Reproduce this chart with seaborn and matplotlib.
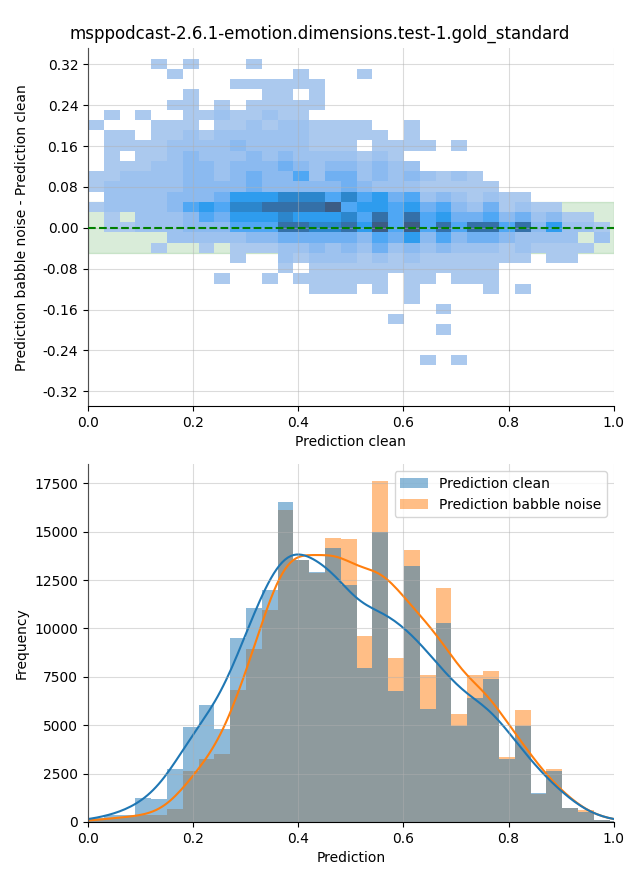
import numpy as np
import pandas as pd
import matplotlib
matplotlib.use("Agg")
import matplotlib.pyplot as plt
import seaborn as sns
from matplotlib.colors import ListedColormap

TITLE = "msppodcast-2.6.1-emotion.dimensions.test-1.gold_standard"
SERIES = ["Prediction clean", "Prediction babble noise"]

# ---- bottom: bar heights per prediction bin ----
clean_counts = [180, 380, 380, 1260, 1210, 2760, 4900, 6040, 4790, 9480, 11030,
                11980, 16510, 13560, 12900, 14160, 12230, 7930, 14990, 6780,
                13210, 5850, 10270, 4960, 6410, 7370, 3270, 4960, 1500, 2620,
                720, 520, 100, 40]
babble_counts = [100, 200, 250, 350, 350, 690, 2620, 3240, 3500, 6810, 8920,
                 10940, 16120, 13540, 12850, 14690, 14640, 9620, 17610, 8480,
                 14040, 7580, 12080, 5570, 7580, 7780, 3360, 5770, 1460, 2760,
                 720, 600, 110, 40]

# ---- top: 2D histogram density levels (row index from top: (first column, levels)) ----
diff_rows = {
    1: (4, "1010001"),
    2: (5, "1000000010001"),
    3: (9, "111111"),
    4: (6, "100001101"),
    5: (5, "1101011111"),
    6: (1, "1010011211211"),
    7: (0, "100011101121221111001"),
    8: (1, "11011212222221111101"),
    9: (1, "11112222322221110111101"),
    10: (1, "1011232223232222121"),
    11: (1, "11122332333432332322"),
    12: (0, "1122223323433524423232121"),
    13: (0, "12222233334333334322211111"),
    14: (1, "222233346667775756452321211"),
    15: (0, "122223565778888956656453241211"),
    16: (1, "1022235466676667585856445342311"),
    17: (1, "11222333555887786959585885836221"),
    18: (5, "2222233444443546353443222202"),
    19: (4, "1001011122323242323222121111"),
    20: (9, "1002122212121111111011"),
    21: (12, "10111111111111"),
    22: (8, "100101111110110111"),
    23: (14, "11101010000101"),
    24: (20, "1"),
    25: (22, "1"),
    26: (19, "1"),
    27: (22, "1"),
    30: (21, "101"),
}
level_colors = ["#abc9ee", "#9dc2ef", "#8bbaf0", "#70b0f2", "#4fa7f4",
                "#2e9cee", "#2c86cc", "#3470a8", "#3c5c84"]

# ---- bin layout ----
BIN_W = 0.03006
x_edges = np.arange(34) * BIN_W
hist_edges = np.arange(35) * BIN_W
Y_MIN, Y_STEP, N_YBINS = -0.349, 0.02, 35
y_edges = Y_MIN + np.arange(N_YBINS + 1) * Y_STEP

x_centers = (x_edges[:-1] + x_edges[1:]) / 2
y_centers = (y_edges[:-1] + y_edges[1:]) / 2
hist_centers = (hist_edges[:-1] + hist_edges[1:]) / 2

xs, ys, ws = [], [], []
for r, (start, levels) in diff_rows.items():
    for i, ch in enumerate(levels):
        if ch != "0":
            xs.append(x_centers[start + i])
            ys.append(y_centers[N_YBINS - 1 - r])
            ws.append(int(ch))

clean_vals = np.repeat(hist_centers, clean_counts)
babble_vals = np.repeat(hist_centers, babble_counts)
df_bottom = pd.DataFrame({
    "Prediction": np.concatenate([clean_vals, babble_vals]),
    "series": [SERIES[0]] * len(clean_vals) + [SERIES[1]] * len(babble_vals),
})

fig, (ax1, ax2) = plt.subplots(2, 1, figsize=(6.4, 8.8), dpi=100)
fig.subplots_adjust(left=0.1375, right=0.959, top=0.945, bottom=0.066, hspace=0.162)

# top panel
ax1.axhspan(-0.05, 0.05, color="green", alpha=0.15, zorder=0.5)
sns.histplot(x=xs, y=ys, weights=ws, bins=[x_edges, y_edges], ax=ax1)
mesh = ax1.collections[-1]
mesh.set_cmap(ListedColormap(level_colors))
mesh.set_clim(0.5, 9.5)
ax1.axhline(0, color="green", linestyle="--", linewidth=1.5, zorder=3)
ax1.set_xlim(0, 1)
ax1.set_ylim(y_edges[0], y_edges[-1])
ax1.set_yticks(np.round(np.arange(-0.32, 0.33, 0.08), 2))
ax1.yaxis.set_major_formatter(matplotlib.ticker.FormatStrFormatter("%.2f"))
ax1.set_xlabel("Prediction clean")
ax1.set_ylabel("Prediction babble noise - Prediction clean")

# bottom panel
sns.histplot(df_bottom, x="Prediction", hue="series",
             hue_order=SERIES, bins=list(hist_edges), kde=True,
             kde_kws=dict(bw_adjust=2.7, cut=1), linewidth=0, ax=ax2)
ax2.set_xlim(0, 1)
ax2.set_xlabel("Prediction")
ax2.set_ylabel("Frequency")
sns.move_legend(ax2, "upper right", title=None)

for ax in (ax1, ax2):
    ax.grid(True, color="#b0b0b0", alpha=0.45, linewidth=0.8)
    ax.set_axisbelow(False)
    ax.set_xticks([0.0, 0.2, 0.4, 0.6, 0.8, 1.0])
    sns.despine(ax=ax)

fig.align_ylabels([ax1, ax2])
fig.suptitle(TITLE, fontsize=12, y=0.972)
fig.savefig("out.png", dpi=100)
